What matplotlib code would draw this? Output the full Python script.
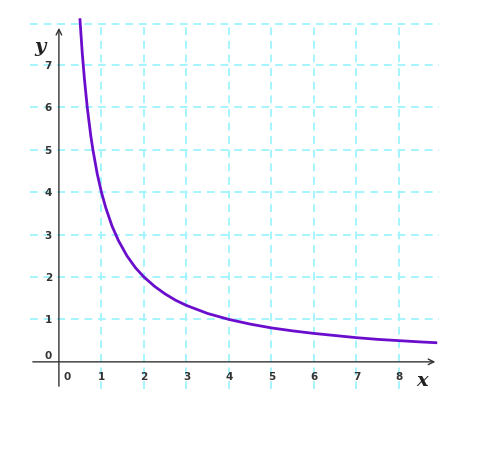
import matplotlib
matplotlib.use("Agg")
import matplotlib.pyplot as plt

# Curve points
curve_x = [0.494, 0.5, 0.55, 0.6, 0.67, 0.75, 0.8, 0.9, 1.0, 1.1, 1.25, 1.4, 1.6, 1.8,
           2.0, 2.25, 2.5, 2.75, 3.0, 3.5, 4.0, 4.5, 5.0, 5.5, 6.0, 6.5, 7.0, 7.5, 8.0, 8.5, 8.9]
curve_y = [8.1, 8.0, 7.27, 6.67, 5.97, 5.33, 5.0, 4.44, 4.0, 3.64, 3.2, 2.86, 2.5, 2.22,
           2.0, 1.78, 1.6, 1.45, 1.33, 1.14, 1.0, 0.89, 0.8, 0.73, 0.67, 0.62, 0.57, 0.53, 0.5, 0.47, 0.45]

x_ticks = [0, 1, 2, 3, 4, 5, 6, 7, 8]
y_ticks = [0, 1, 2, 3, 4, 5, 6, 7]
grid_x = [1, 2, 3, 4, 5, 6, 7, 8]
grid_y = [1, 2, 3, 4, 5, 6, 7, 7.96]

W, H = 487, 460
fig = plt.figure(figsize=(W / 100, H / 100), dpi=100)
L, R, B, T = 30, 441.5, 390, 18
ax = fig.add_axes([L / W, 1 - B / H, (R - L) / W, (B - T) / H])
xmin, xmax = -0.68, 9.0
ymin, ymax = -0.64, 8.13
ax.set_xlim(xmin, xmax)
ax.set_ylim(ymin, ymax)
ax.axis("off")

gcol = "#a4f4fc"
ax.hlines(grid_y, xmin, 8.95, colors=gcol, linestyles=(0, (4, 3)), linewidth=1.4, zorder=1)
ax.vlines(grid_x, ymin, 7.96, colors=gcol, linestyles=(0, (4, 3)), linewidth=1.4, zorder=1)

acol = "#333333"
ax.annotate("", xy=(8.92, 0), xytext=(xmin, 0),
            arrowprops=dict(arrowstyle="->", color=acol, lw=1, mutation_scale=10), zorder=2)
ax.annotate("", xy=(0, 7.94), xytext=(0, ymin),
            arrowprops=dict(arrowstyle="->", color=acol, lw=1, mutation_scale=10), zorder=2)

ax.plot(curve_x, curve_y, color="#6a0dcc", linewidth=2.0, zorder=3, solid_capstyle="butt")

tcol = "#333333"
for v in x_ticks:
    xx = v + 0.2 if v == 0 else v
    ax.text(xx, -0.33, str(v), ha="center", va="center", fontsize=7.5,
            fontweight="bold", color=tcol, family="DejaVu Sans")
for v in y_ticks:
    yy = v + 0.15 if v == 0 else v
    ax.text(-0.25, yy, str(v), ha="center", va="center", fontsize=7.5,
            fontweight="bold", color=tcol, family="DejaVu Sans")

ax.text(-0.45, 7.45, "y", ha="center", va="center", fontsize=14, fontstyle="italic",
        fontweight="bold", family="DejaVu Serif", color="#222222")
ax.text(8.55, -0.43, "x", ha="center", va="center", fontsize=14, fontstyle="italic",
        fontweight="bold", family="DejaVu Serif", color="#222222")

fig.savefig("out.png", dpi=100)
